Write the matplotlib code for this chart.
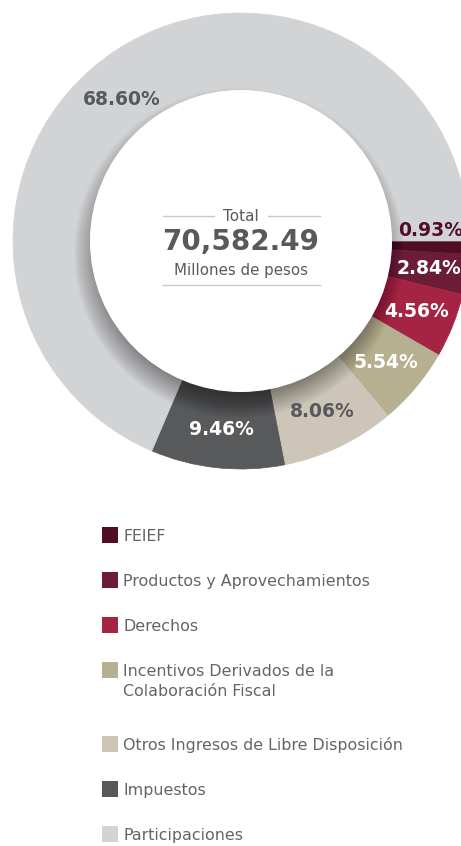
import numpy as np
import matplotlib.pyplot as plt
from matplotlib.patches import Circle

# data
categorias = ["FEIEF", "Productos y Aprovechamientos", "Derechos",
              "Incentivos Derivados de la\nColaboración Fiscal",
              "Otros Ingresos de Libre Disposición", "Impuestos", "Participaciones"]
porcentajes = [0.93, 2.84, 4.56, 5.54, 8.06, 9.46, 68.60]
colores = ["#4f0d26", "#6b1d38", "#a52443", "#b6b091", "#cdc6b8", "#58595b", "#d2d3d5"]
color_etiqueta = ["#4f0d26", "white", "white", "white", "#58595b", "white", "#58595b"]
total = "70,582.49"

W, H = 461, 846
CX, CY = 241, H - 241
R, RIN = 228, 151
GRIS = "#58595b"

plt.rcParams['font.family'] = ['DejaVu Sans']

fig = plt.figure(figsize=(W / 100, H / 100), dpi=100)
ax = fig.add_axes([0, 0, 1, 1])

wedges, _ = ax.pie(porcentajes, colors=colores, startangle=0, counterclock=False,
                   radius=R, center=(CX, CY),
                   wedgeprops=dict(width=R - RIN, linewidth=0.5))
for w in wedges:
    w.set_edgecolor(w.get_facecolor())

# sombra difusa del circulo interior (desplazada hacia abajo)
for k in range(-22, 15):
    ax.add_patch(Circle((CX - 2, CY - 12), RIN + k, color="black", alpha=0.016,
                        lw=0, zorder=3))
ax.add_patch(Circle((CX, CY), RIN, color="white", lw=0, zorder=4))

# etiquetas de porcentaje
ajustes = {0: (0, 16), 6: (-15, -17)}
rmid = (R + RIN) / 2
for i, w in enumerate(wedges):
    ang = np.deg2rad((w.theta1 + w.theta2) / 2)
    dx, dy = ajustes.get(i, (0, 0))
    ax.text(CX + rmid * np.cos(ang) + dx, CY + rmid * np.sin(ang) + dy,
            f"{porcentajes[i]:.2f}%", ha="center", va="center",
            fontsize=13.5, fontweight="bold", color=color_etiqueta[i], zorder=5)

# texto central
ax.text(CX, H - 216, "Total", ha="center", va="center", fontsize=11,
        color=GRIS, zorder=5)
ax.text(CX, H - 242, total, ha="center", va="center", fontsize=20,
        fontweight="bold", color=GRIS, zorder=5)
ax.text(CX, H - 270, "Millones de pesos", ha="center", va="center",
        fontsize=10.8, color=GRIS, zorder=5)
ax.plot([163, 214], [H - 216, H - 216], color="#c8c8c8", lw=1, zorder=5)
ax.plot([268, 320], [H - 216, H - 216], color="#c8c8c8", lw=1, zorder=5)
ax.plot([163, 320], [H - 285, H - 285], color="#c8c8c8", lw=1, zorder=5)

# leyenda
y = 535
for cat, col in zip(categorias, colores):
    ax.scatter([110], [H - y], marker="s", s=118, color=col, linewidths=0)
    lineas = cat.split("\n")
    for j, linea in enumerate(lineas):
        ax.text(123, H - y - 5.5 - 20 * j, linea, ha="left", va="baseline",
                fontsize=11.4, color="#646464")
    y += 45 + 29 * (len(lineas) - 1)

ax.set_xlim(0, W)
ax.set_ylim(0, H)
ax.set_aspect("auto")
ax.axis("off")

fig.savefig("out.png", dpi=100, facecolor="white")
